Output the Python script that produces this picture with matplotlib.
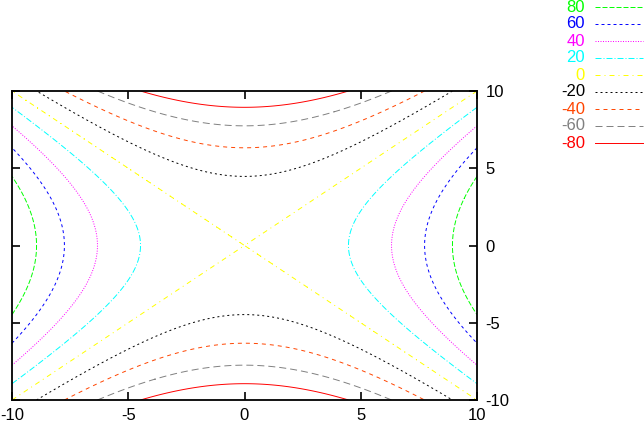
import numpy as np
import matplotlib
matplotlib.use("Agg")
import matplotlib.pyplot as plt
from matplotlib.lines import Line2D

plt.rcParams['font.family'] = ['Liberation Sans', 'DejaVu Sans']
plt.rcParams['lines.scale_dashes'] = False

levels = [80, 60, 40, 20, 0, -20, -40, -60, -80]
level_labels = ['80', '60', '40', '20', '0', '-20', '-40', '-60', '-80']
colors = ['#00ff00', '#0000ff', '#ff00ff', '#00ffff', '#ffff00',
          '#000000', '#ff4500', '#808080', '#ff0000']
px = 0.72
styles = [(0, (5*px, 2*px)), (0, (3*px, 3*px)), (0, (1*px, 1.5*px)),
          (0, (6*px, 2*px, 1*px, 2*px)), (0, (5*px, 4*px, 1*px, 4*px)),
          (0, (2*px, 3*px)), (0, (4*px, 4*px)), (0, (7*px, 4*px)), 'solid']
xticks = [-10, -5, 0, 5, 10]
yticks = [-10, -5, 0, 5, 10]

x = np.linspace(-10, 10, 401)
y = np.linspace(-10, 10, 401)
X, Y = np.meshgrid(x, y)
Z = X**2 - Y**2

W, H = 644, 425
fig = plt.figure(figsize=(W/100, H/100), dpi=100)
ax = fig.add_axes([12/W, 1 - 400/H, 465/W, 309/H])

order = np.argsort(levels)
for i in order:
    ax.contour(X, Y, Z, levels=[levels[i]], colors=[colors[i]],
               linewidths=0.7, linestyles=[styles[i]])

ax.set_xlim(-10, 10)
ax.set_ylim(-10, 10)
ax.set_xticks(xticks)
ax.set_yticks(yticks)
ax.set_xticklabels([str(v) for v in xticks])
ax.set_yticklabels([str(v) for v in yticks])
ax.tick_params(direction='in', length=6, width=1.2, labelsize=12,
               top=True, right=True, left=True, bottom=True,
               labelleft=False, labelright=True, pad=6)
for s in ax.spines.values():
    s.set_linewidth(1.3)

for k, (lab, c, st) in enumerate(zip(level_labels, colors, styles)):
    yy = 1 - (7 + k*17.0)/H
    fig.text(585/W, yy, lab, color=c, ha='right', va='center', fontsize=12)
    fig.add_artist(Line2D([595/W, 643/W], [yy, yy], color=c, lw=0.7,
                          linestyle=st, transform=fig.transFigure))

fig.savefig('out.png', dpi=100)
